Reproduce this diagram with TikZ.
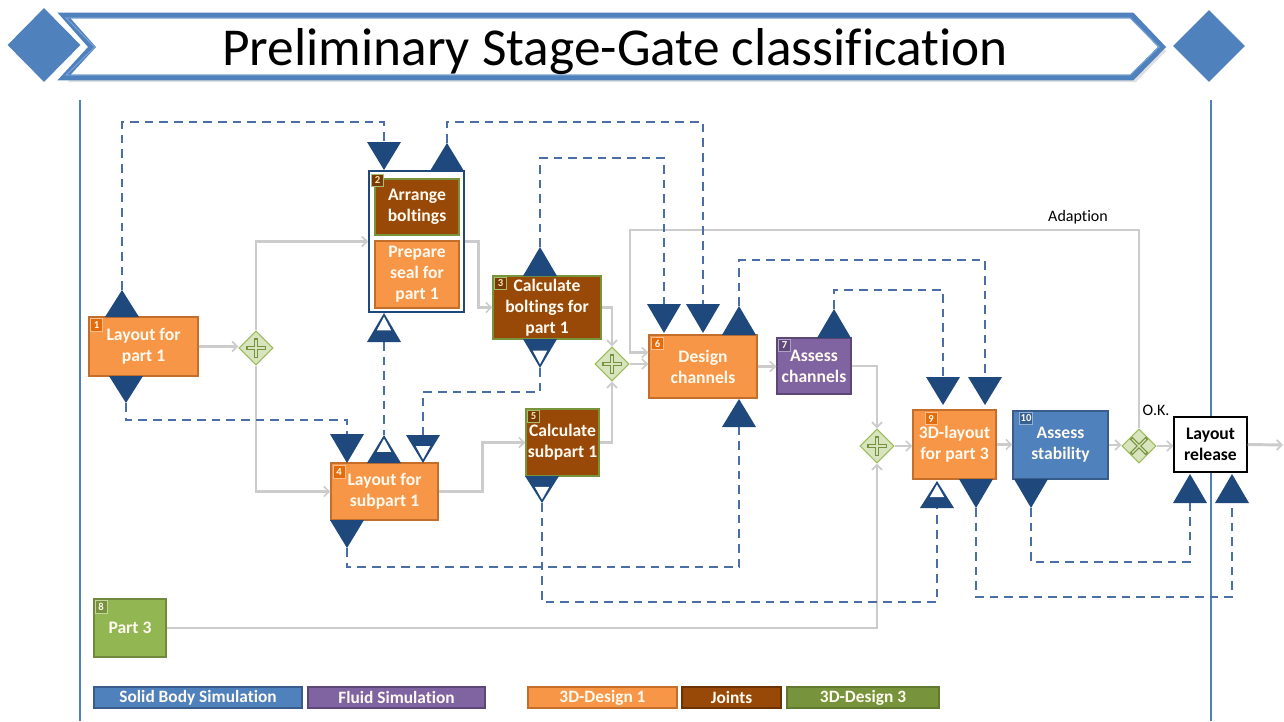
\documentclass[tikz,border=0pt]{standalone}
\usepackage{fontspec}
\setmainfont{Carlito}[Ligatures=NoCommon]
\usetikzlibrary{shapes.geometric,arrows.meta,calc}
\definecolor{bannerblue}{RGB}{79,129,189}
\definecolor{bannerlight}{RGB}{120,160,210}
\definecolor{vblue}{RGB}{79,129,189}
\definecolor{navy}{RGB}{31,73,125}
\definecolor{dashblue}{RGB}{74,110,165}
\definecolor{arrgray}{RGB}{204,204,204}
\definecolor{orfill}{RGB}{247,150,70}
\definecolor{ordraw}{RGB}{196,110,44}
\definecolor{brfill}{RGB}{152,72,7}
\definecolor{brdraw}{RGB}{119,147,60}
\definecolor{pufill}{RGB}{128,100,162}
\definecolor{pudraw}{RGB}{92,71,118}
\definecolor{blfill}{RGB}{79,129,189}
\definecolor{bldraw}{RGB}{56,93,138}
\definecolor{grfill}{RGB}{146,182,82}
\definecolor{grdraw}{RGB}{113,137,63}
\definecolor{lgfill}{RGB}{119,147,60}
\definecolor{lgdraw}{RGB}{96,120,48}
\definecolor{gwfill}{RGB}{215,228,189}
\definecolor{gwdraw}{RGB}{155,187,89}
\definecolor{gwsign}{RGB}{118,146,60}
\definecolor{bgor}{RGB}{228,108,10}
\definecolor{bgorb}{RGB}{250,192,143}
\definecolor{bgbr}{RGB}{120,58,6}
\definecolor{bgbrb}{RGB}{170,190,110}
\definecolor{bgpu}{RGB}{96,74,123}
\definecolor{bgpub}{RGB}{178,161,199}
\definecolor{bgbl}{RGB}{54,96,146}
\definecolor{bgblb}{RGB}{149,179,215}
\definecolor{bggr}{RGB}{118,146,60}
\definecolor{bggrb}{RGB}{195,214,155}
\definecolor{boxtext}{RGB}{255,250,240}

\newcommand\TriS[5]{%
  \fill[navy] (#2,#3) -- ({#2-17},#4) -- ({#2+17},#4) -- cycle;
  \ifnum#5=1
    \fill[white] (#2,{#3+0.13*(#4-#3)}) -- ({#2-7.2},{#3+0.6*(#4-#3)}) -- ({#2+7.2},{#3+0.6*(#4-#3)}) -- cycle;
  \fi
  \coordinate (#1-a) at (#2,#3);
  \coordinate (#1-b) at (#2,#4);
}
\newcommand\PlusSign[1]{%
  \draw[gwsign, line width=2.7pt] ($(#1)+(-10,0)$) -- ($(#1)+(10,0)$) ($(#1)+(0,-10)$) -- ($(#1)+(0,10)$);
  \draw[gwfill, line width=1pt] ($(#1)+(-8.5,0)$) -- ($(#1)+(8.5,0)$) ($(#1)+(0,-8.5)$) -- ($(#1)+(0,8.5)$);
}
\newcommand\XSign[1]{%
  \draw[gwsign, line width=2.7pt] ($(#1)+(-8,-8)$) -- ($(#1)+(8,8)$) ($(#1)+(-8,8)$) -- ($(#1)+(8,-8)$);
  \draw[gwfill, line width=1pt] ($(#1)+(-6.8,-6.8)$) -- ($(#1)+(6.8,6.8)$) ($(#1)+(-6.8,6.8)$) -- ($(#1)+(6.8,-6.8)$);
}

\begin{document}
\begin{tikzpicture}[x=0.75pt,y=-0.75pt,
  wh/.style 2 args={minimum width=#1*0.75pt, minimum height=#2*0.75pt},
  box/.style={draw, line width=1.1pt, text=boxtext, font=\fontsize{13.2}{15.75}\selectfont\bfseries, align=center, inner sep=0pt},
  orbox/.style={box, fill=orfill, draw=ordraw},
  brbox/.style={box, fill=brfill, draw=brdraw},
  pubox/.style={box, fill=pufill, draw=pudraw},
  blbox/.style={box, fill=blfill, draw=bldraw},
  grbox/.style={box, fill=grfill, draw=grdraw},
  lgbox/.style={box, fill=lgfill, draw=lgdraw},
  legend/.style={font=\fontsize{13}{15}\selectfont\bfseries},
  badge/.style={minimum width=9pt, minimum height=9.5pt, inner sep=0.6pt, line width=0.6pt, text=boxtext, font=\fontsize{8}{8}\selectfont\bfseries},
  bor/.style={badge, fill=bgor, draw=bgorb},
  bbr/.style={badge, fill=bgbr, draw=bgbrb, text={rgb,255:red,255;green,230;blue,170}},
  bpu/.style={badge, fill=bgpu, draw=bgpub},
  bbl/.style={badge, fill=bgbl, draw=bgblb},
  bgr/.style={badge, fill=bggr, draw=bggrb},
  gw/.style={diamond, fill=gwfill, draw=gwdraw, line width=0.8pt, minimum width=25.5pt, minimum height=25.5pt, inner sep=0pt},
  garrow/.style={draw=arrgray, line width=2.2pt, -{Straight Barb[length=3.8pt,width=7.5pt,line width=1.3pt]}},
  dline/.style={draw=dashblue, line width=1.9pt, dash pattern=on 6.5pt off 4.5pt},
  vline/.style={draw=vblue, line width=1.1pt},
  lbl/.style={font=\fontsize{12}{14}\selectfont, text=black, inner sep=0pt}
]
\useasboundingbox (0,0) rectangle (1284,721);
\fill[white] (0,0) rectangle (1284,721);

% ---- title banner ----
\fill[black!12] (68,20) -- (1136,20) -- (1166,51) -- (1136,82) -- (68,82) -- (96,51) -- cycle;
\fill[white] (64,15.5) -- (1132,15.5) -- (1162,47) -- (1132,77.5) -- (64,77.5) -- (92,47) -- cycle;
\draw[bannerblue, line width=4.4pt, line join=miter] (64,15.5) -- (1132,15.5) -- (1162,47) -- (1132,77.5) -- (64,77.5) -- (92,47) -- cycle;
\draw[bannerlight, line width=0.8pt, line join=miter] (66,17.8) -- (1130,17.8) -- (1159,47) -- (1130,75.2) -- (66,75.2) -- (94.6,47) -- cycle;
\node[diamond, fill=bannerblue, wh={73}{74}, inner sep=0pt] (dl) at (44,45) {};
\node[diamond, fill=bannerblue, wh={72}{72}, inner sep=0pt] (dr) at (1209,46) {};
\node[font=\fontsize{40}{48}\selectfont, anchor=base, inner sep=0pt] (title) at (615,65) {Preliminary Stage-Gate classification};

% ---- lanes ----
\draw[vline] (80,100) -- (80,721);
\draw[vline] (1211,100) -- (1211,721);

% ---- boxes ----
\node[orbox, wh={109}{59}] (b1) at (143.5,346.5) {Layout for\\part 1};
\node[draw=navy, line width=1.4pt, fill=white, wh={95}{141}, inner sep=0pt] (b2) at (416.5,241.5) {};
\node[brbox, wh={84}{56}] (b2a) at (417,207) {Arrange\\boltings};
\node[orbox, wh={84}{67}] (b2b) at (417,274.5) {Prepare\\seal for\\part 1};
\node[brbox, wh={108}{63}] (b3) at (547,307.5) {Calculate\\boltings for\\part 1};
\node[orbox, wh={107}{57}] (b4) at (384.5,491.5) {Layout for\\subpart 1};
\node[brbox, wh={73}{67}] (b5) at (562.5,442.5) {Calculate\\subpart 1};
\node[orbox, wh={108}{63}] (b6) at (703,366.5) {Design\\channels};
\node[pubox, wh={74}{56}] (b7) at (814,366) {Assess\\channels};
\node[grbox, wh={72}{58}] (b8) at (130,628) {Part 3};
\node[orbox, wh={83}{69}] (b9) at (954.5,444.5) {3D-layout\\for part 3};
\node[blbox, wh={95}{68}] (b10) at (1060.5,445) {Assess\\stability};
\node[box, fill=white, draw=black, text=black, wh={73}{55}] (lr) at (1210.5,444.5) {Layout\\release};

% ---- badges ----
\node[bor] (n1) at (96.5,325) {1};
\node[bbr] (n2) at (377.5,180.5) {2};
\node[bbr] (n3) at (500.5,283.5) {3};
\node[bor] (n4) at (339,472) {4};
\node[bbr] (n5) at (533.5,416.5) {5};
\node[bor] (n6) at (657.5,343.5) {6};
\node[bpu] (n7) at (784.5,345.5) {7};
\node[bgr] (n8) at (101,607) {8};
\node[bor] (n9) at (931,418.5) {9};
\node[bbl] (n10) at (1026,418.5) {10};

% ---- gateways ----
\node[gw] (gA) at (256,348) {};
\node[gw] (gB) at (612,364) {};
\node[gw] (gC) at (877,446) {};
\node[gw] (gX) at (1139,446) {};
\PlusSign{gA}
\PlusSign{gB}
\PlusSign{gC}
\XSign{gX}

% ---- gray flow ----
\draw[garrow] (b1.east) -- (b1.east -| gA.west);
\draw[garrow] (gA.north) |- (b2.west);
\draw[garrow] (gA.south) |- (b4.west);
\draw[garrow] (b2.east) -- ++(14,0) |- (b3.west);
\draw[garrow] (b3.east) -| (gB.north);
\draw[garrow] (b5.east) -| (gB.south);
\draw[garrow] (b4.east) -- ++(44,0) |- (b5.west);
\draw[garrow] (gB.east) -- (gB.east -| b6.west);
\coordinate (adp) at (630,230);
\draw[garrow] (gX.north) |- (adp) |- ($(b6.west)+(0,-14)$);
\draw[garrow] (b6.east) -- (b6.east -| b7.west);
\draw[garrow] (b7.east) -| (gC.north);
\draw[garrow] (b8.east) -| (gC.south);
\draw[garrow] (gC.east) -- (gC.east -| b9.west);
\draw[garrow] (b9.east) -- (b9.east -| b10.west);
\draw[garrow] (b10.east) -- (b10.east -| gX.west);
\draw[garrow] (gX.east) -- (gX.east -| lr.west);
\coordinate (outend) at (1283,445);
\draw[garrow] (lr.east) -- (outend);

\node[lbl] (adlbl) at (1078,217) {Adaption};
\node[lbl] (oklbl) at (1156,410) {O.K.};

% ---- dashed ----
\coordinate (t1up-a) at (122,290);
\coordinate (t1dn-a) at (126,403);
\coordinate (t2in-b) at (384,142);
\coordinate (t2out-a) at (447,143);
\coordinate (t2bot-b) at (384,342);
\coordinate (t3top-a) at (540,247);
\coordinate (t3bot-a) at (540,368);
\coordinate (t4a-b) at (347,434);
\coordinate (t4b-a) at (384,435);
\coordinate (t4c-b) at (423,435);
\coordinate (t4bot-a) at (347,548);
\coordinate (t5bot-a) at (542,503);
\coordinate (t6a-b) at (664,304);
\coordinate (t6b-b) at (703,304);
\coordinate (t6top-a) at (739,306);
\coordinate (t6bot-b) at (739,427);
\coordinate (t7top-a) at (834,309);
\coordinate (t9a-b) at (943,377);
\coordinate (t9b-b) at (985,377);
\coordinate (t9bl-b) at (937,508);
\coordinate (t9br-a) at (976,508);
\coordinate (t10bot-a) at (1031,508);
\coordinate (tlr1-b) at (1190,503);
\coordinate (tlr2-b) at (1232,503);

\draw[dline] (t1up-a) -- ++(0,-168) -| (t2in-b);
\draw[dline] (t1dn-a) -- ++(0,17) -| (t4a-b);
\draw[dline] (t2out-a) -- ++(0,-21) -| (t6b-b);
\draw[dline] (t2bot-b) -- (t4b-a);
\draw[dline] (t3top-a) -- ++(0,-89) -| (t6a-b);
\draw[dline] (t3bot-a) -- ++(0,24) -| (t4c-b);
\draw[dline] (t4bot-a) -- ++(0,19) -| (t6bot-b);
\draw[dline] (t5bot-a) -- ++(0,99) -| (t9bl-b);
\draw[dline] (t6top-a) -- ++(0,-46) -| (t9b-b);
\draw[dline] (t7top-a) -- ++(0,-19) -| (t9a-b);
\draw[dline] (t10bot-a) -- ++(0,54) -| (tlr1-b);
\draw[dline] (t9br-a) -- ++(0,89) -| (tlr2-b);

% ---- triangles ----
\TriS{t1up}{122}{290}{317}{0}
\TriS{t1dn}{126}{403}{376}{0}
\TriS{t2in}{384}{170}{142}{0}
\TriS{t2out}{447}{143}{171}{0}
\TriS{t2bot}{384}{313}{342}{1}
\TriS{t3top}{540}{247}{276}{0}
\TriS{t3bot}{540}{368}{339}{1}
\TriS{t4a}{347}{463}{434}{0}
\TriS{t4b}{384}{435}{463}{1}
\TriS{t4c}{423}{463}{435}{1}
\TriS{t4bot}{347}{548}{520}{0}
\TriS{t5bot}{542}{503}{476}{1}
\TriS{t6a}{664}{333}{304}{0}
\TriS{t6b}{703}{333}{304}{0}
\TriS{t6top}{739}{306}{335}{0}
\TriS{t6bot}{739}{399}{427}{0}
\TriS{t7top}{834}{309}{338}{0}
\TriS{t9a}{943}{405}{377}{0}
\TriS{t9b}{985}{405}{377}{0}
\TriS{t9bl}{937}{481}{508}{1}
\TriS{t9br}{976}{508}{479}{0}
\TriS{t10bot}{1031}{508}{479}{0}
\TriS{tlr1}{1190}{474}{503}{0}
\TriS{tlr2}{1232}{474}{503}{0}

% ---- legend ----
\node[blbox, legend, wh={208}{21}] (lg1) at (198,697.5) {Solid Body Simulation};
\node[pubox, legend, wh={177}{21}] (lg2) at (396.5,697.5) {Fluid Simulation};
\node[orbox, legend, wh={149}{21}] (lg3) at (602.5,697.5) {3D-Design 1};
\node[brbox, legend, draw=brfill!70!black, wh={99}{21}] (lg4) at (731.5,697.5) {Joints};
\node[lgbox, legend, wh={152}{21}] (lg5) at (863,697.5) {3D-Design 3};
\end{tikzpicture}
\end{document}
